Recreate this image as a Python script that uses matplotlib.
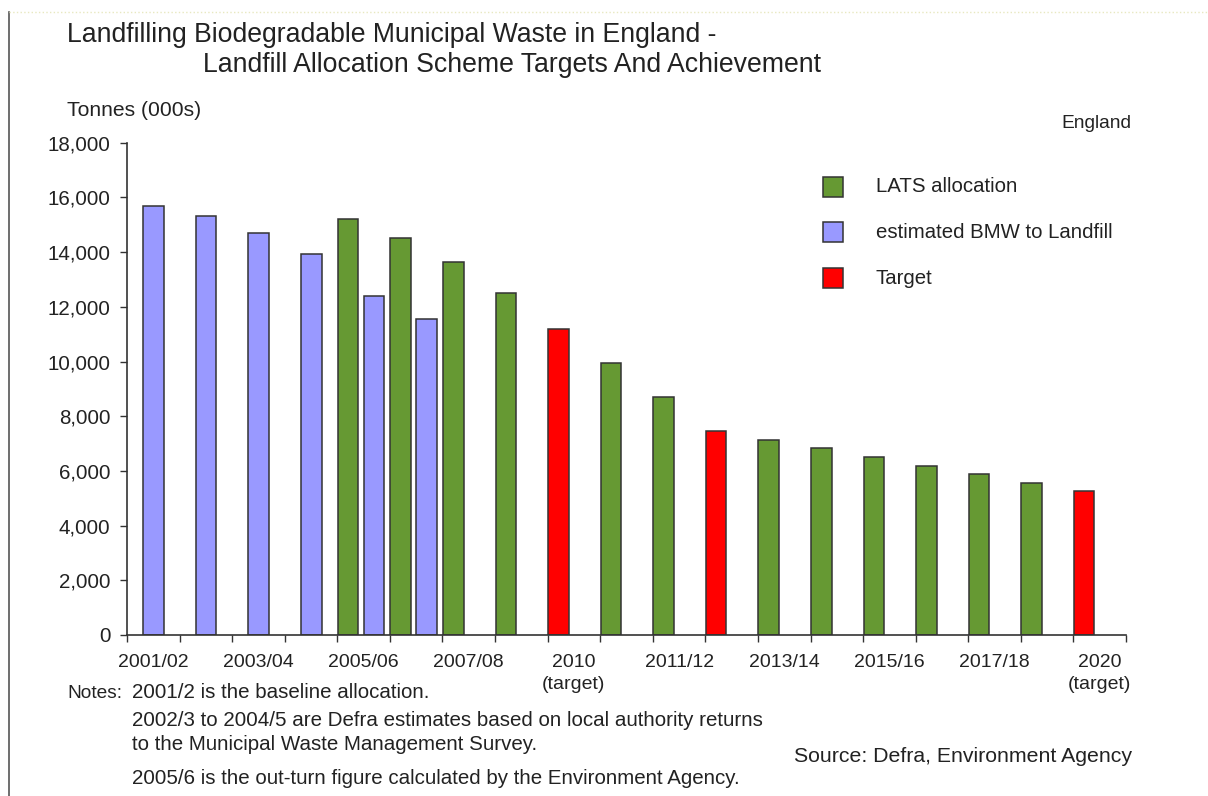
import numpy as np
import matplotlib
matplotlib.use("Agg")
import matplotlib.pyplot as plt
from matplotlib.lines import Line2D

plt.rcParams['font.family'] = ['Liberation Sans', 'DejaVu Sans']

categories = ['2001/02', '2002/03', '2003/04', '2004/05', '2005/06', '2006/07',
              '2007/08', '2008/09', '2009/10', '2010/11', '2011/12', '2012/13',
              '2013/14', '2014/15', '2015/16', '2016/17', '2017/18', '2018/19',
              '2019/20']
tick_labels = ['2001/02', '', '2003/04', '', '2005/06', '', '2007/08', '',
               '2010\n(target)', '', '2011/12', '', '2013/14', '', '2015/16', '',
               '2017/18', '', '2020\n(target)']
nan = np.nan
lats_allocation = [nan, nan, nan, nan, 15200, 14520, 13630, 12520, nan, 9950,
                   8710, nan, 7130, 6830, 6500, 6180, 5890, 5550, nan]
bmw_to_landfill = [15690, 15320, 14690, 13930, 12400, 11540, nan, nan, nan, nan,
                   nan, nan, nan, nan, nan, nan, nan, nan, nan]
target = [nan, nan, nan, nan, nan, nan, nan, nan, 11180, nan, nan, 7460, nan,
          nan, nan, nan, nan, nan, 5250]

GREEN = '#669933'
BLUE = '#9999FF'
RED = '#FF0000'
EDGE = '#333333'
TXT = '#222222'

W, H = 1208, 796
fig = plt.figure(figsize=(W / 100, H / 100), dpi=100)

def fx(x):
    return x / W

def fy(y):
    return 1 - y / H

ax = fig.add_axes([fx(127), fy(635), fx(1126) - fx(127), fy(142.7) - fy(635)])

n = len(categories)
idx = np.arange(n)
bw = 0.39
lats = np.array(lats_allocation, dtype=float)
bmw = np.array(bmw_to_landfill, dtype=float)
tgt = np.array(target, dtype=float)

# green / red at left of category slot; blue centred, or shifted right when paired
ax.bar(idx + 0.01, lats, width=bw, align='edge', color=GREEN, edgecolor=EDGE, linewidth=1.1)
ax.bar(idx + 0.01, tgt, width=bw, align='edge', color=RED, edgecolor=EDGE, linewidth=1.1)
blue_x = np.where(np.isnan(lats), idx + 0.31, idx + 0.5)
ax.bar(blue_x, bmw, width=bw, align='edge', color=BLUE, edgecolor=EDGE, linewidth=1.1)

ax.set_xlim(0, n)
ax.set_ylim(0, 18000)
ax.set_yticks(np.arange(0, 18001, 2000))
ax.set_yticklabels([f'{v:,}' for v in range(0, 18001, 2000)])
ax.set_xticks(np.arange(0, n + 1))
ax.set_xticklabels([])
ax.set_xticks(idx + 0.5, minor=True)
ax.set_xticklabels(tick_labels, minor=True, linespacing=1.35)
ax.tick_params(axis='x', which='major', length=5, width=1, color='#333333', direction='out')
ax.tick_params(axis='x', which='minor', length=0, pad=14, labelsize=14.0, labelcolor=TXT)
ax.tick_params(axis='y', length=5, width=1, color='#333333', direction='out', labelsize=14.8,
               labelcolor=TXT, pad=7)
for s in ['top', 'right']:
    ax.spines[s].set_visible(False)
for s in ['left', 'bottom']:
    ax.spines[s].set_color('#333333')
    ax.spines[s].set_linewidth(1.2)

# Titles and texts
fig.text(fx(67), fy(35), 'Landfilling Biodegradable Municipal Waste in England -',
         fontsize=19.2, color=TXT, va='center', ha='left')
fig.text(fx(203), fy(65), 'Landfill Allocation Scheme Targets And Achievement',
         fontsize=19.2, color=TXT, va='center', ha='left')
fig.text(fx(67), fy(110), 'Tonnes (000s)', fontsize=15.2, color=TXT, va='center', ha='left')
fig.text(fx(1131), fy(124), 'England', fontsize=13.8, color=TXT, va='center', ha='right')

# Legend
leg_items = [('LATS allocation', GREEN, 187), ('estimated BMW to Landfill', BLUE, 232),
             ('Target', RED, 278)]
for label, col, yc in leg_items:
    fig.patches.append(matplotlib.patches.Rectangle((fx(823), fy(yc + 10)), fx(20), fy(yc - 10) - fy(yc + 10),
                                                    transform=fig.transFigure, facecolor=col,
                                                    edgecolor=EDGE, linewidth=1.1))
    fig.text(fx(876), fy(yc), label, fontsize=14.7, color=TXT, va='center', ha='left')

# Notes
NFS = 14.8
fig.text(fx(67), fy(693), 'Notes:', fontsize=13.8, color=TXT, va='center', ha='left')
fig.text(fx(132), fy(693), '2001/2 is the baseline allocation.', fontsize=NFS, color=TXT,
         va='center', ha='left')
fig.text(fx(132), fy(721), '2002/3 to 2004/5 are Defra estimates based on local authority returns',
         fontsize=NFS, color=TXT, va='center', ha='left')
fig.text(fx(132), fy(745), 'to the Municipal Waste Management Survey.', fontsize=NFS, color=TXT,
         va='center', ha='left')
fig.text(fx(132), fy(779), '2005/6 is the out-turn figure calculated by the Environment Agency.',
         fontsize=NFS, color=TXT, va='center', ha='left')
fig.text(fx(1132), fy(757), 'Source: Defra, Environment Agency', fontsize=15.3, color=TXT,
         va='center', ha='right')

# frame lines
fig.add_artist(Line2D([fx(9), fx(9)], [fy(12), 0], transform=fig.transFigure, color='#555555', lw=1.2))
fig.add_artist(Line2D([fx(9), 1], [fy(12), fy(12)], transform=fig.transFigure, color='#E8E8C0',
                      lw=1, linestyle=':'))

fig.savefig('out.png', dpi=100)
